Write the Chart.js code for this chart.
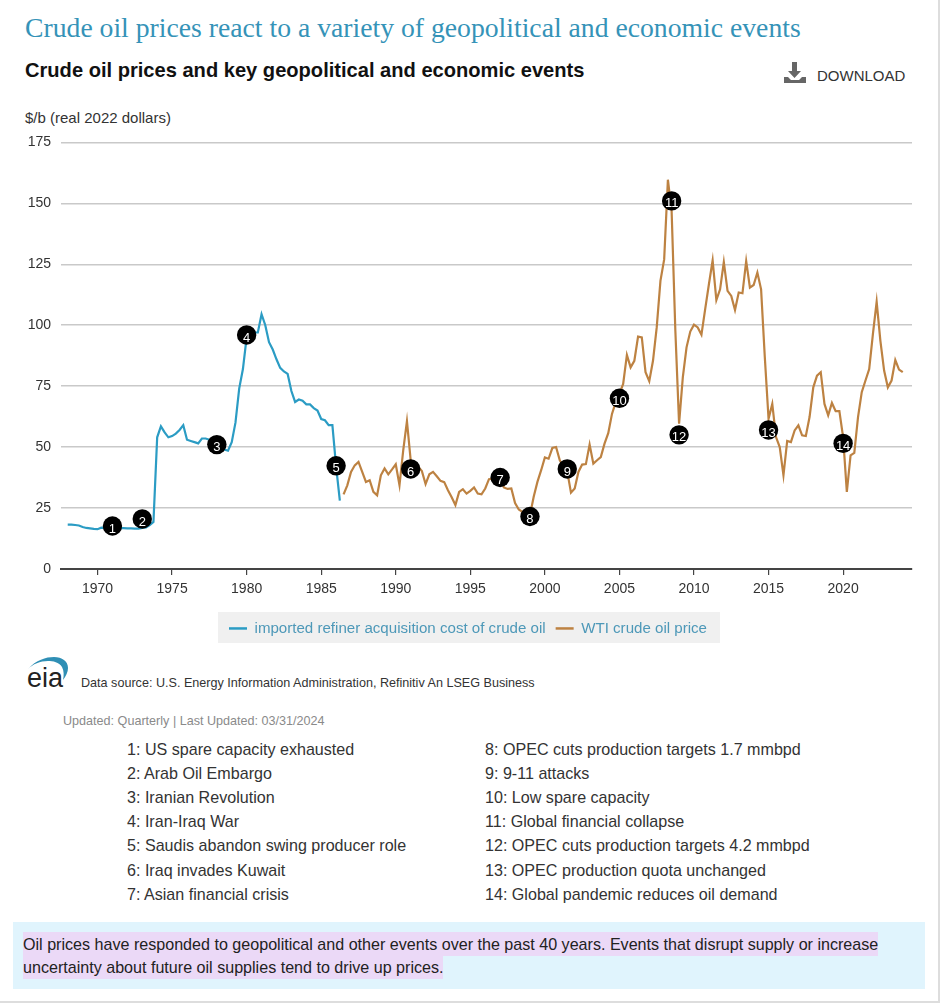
<!DOCTYPE html>
<html><head><meta charset="utf-8">
<script src="https://cdn.jsdelivr.net/npm/chart.js@4"></script>
<style>
html,body{margin:0;padding:0;background:#fff;width:940px;height:1003px;overflow:hidden;font-family:"Liberation Sans",Arial,sans-serif}
.a{position:absolute;white-space:nowrap;line-height:1}
#c{position:absolute;left:0;top:124px}
mark{background:#ebd9f7;color:#222;padding:3px 0}
</style></head><body>
<div class="a" style="left:25px;top:12px;font:27.7px 'Liberation Serif',serif;color:#3593b8">Crude oil prices react to a variety of geopolitical and economic events</div>
<div class="a" style="left:25px;top:60px;font-size:20.1px;font-weight:bold;color:#111">Crude oil prices and key geopolitical and economic events</div>
<svg class="a" style="left:783px;top:62px" width="24" height="22"><path d="M9 0h5v9h4l-6.5 7L5 9h4z M1 15h4l3 3h8l3-3h4v6H1z" fill="#666"/></svg>
<div class="a" style="left:817px;top:68px;font-size:15px;color:#333">DOWNLOAD</div>
<div class="a" style="left:25px;top:110px;font-size:15px;color:#333">$/b (real 2022 dollars)</div>
<canvas id="c" width="940" height="522"></canvas>
<svg class="a" style="left:26px;top:655px" width="46" height="28"><path d="M2 14C10 5 20 2 28 2C36 2 42 6 42 13C42 17 40 21 37 25C38 20 38 16 36 12C33 7 27 6 22 6C14 6 7 9 2 14z" fill="#2f8fb5"/></svg>
<div class="a" style="left:27px;top:665px;font-size:27px;color:#222">eia</div>
<div class="a" style="left:81px;top:677px;font-size:12.6px;color:#333">Data source: U.S. Energy Information Administration, Refinitiv An LSEG Business</div>
<div class="a" style="left:63px;top:715px;font-size:12.6px;color:#8a8a8a">Updated: Quarterly | Last Updated: 03/31/2024</div>
<div id="ev"></div>
<div class="a" style="left:13px;top:922px;width:912px;height:67px;background:#e0f4fd"></div>
<div class="a" style="left:23px;top:936px;font-size:16.1px;color:#222"><mark>Oil prices have responded to geopolitical and other events over the past 40 years. Events that disrupt supply or increase</mark></div>
<div class="a" style="left:23px;top:959px;font-size:16.1px;color:#222"><mark>uncertainty about future oil supplies tend to drive up prices.</mark></div>
<div class="a" style="left:938px;top:0;width:2px;height:1003px;background:#ddd"></div>
<div class="a" style="left:0;top:1001px;width:940px;height:2px;background:#ddd"></div>
<script>
const tickYears=[1970,1975,1980,1985,1990,1995,2000,2005,2010,2015,2020];
const yTicks=[0,25,50,75,100,125,150,175];
const refinerStart=1968;
const refinerValues=[
18.2,18.2,18,17.8, 17.2,16.8,16.6,16.4, 16.3,16.9,16.8,16.7, 16.6,16.6,16.7,16.7,
16.6,16.6,16.5,16.5, 16.8,17,18,19.3, 54,58.5,56,54, 54.5,55.5,57,59,
53,52.5,52,51.5, 53.5,53.5,53,52, 51,50,49,48.5, 52,60,74,82,
95,98,97,97, 104.5,100,93,90, 86,82.5,81,80, 73,68.5,69.5,69,
67.5,67.5,66,65, 61.5,61,59,59, 42,28];
const wtiStart=1986.5;
const wtiValues=[
30.6,34.3, 39.8,42.5,43.9,39.8, 35.7,36.4,31.6,30.2, 38.4,41.2,38.8,40.8,
42.9,34.3,48.6,60.6, 44.6,42,42,40.2, 34.8,38.8,39.8,38, 36.1,35.6,32.3,29.4,
26.2,31.6,32.7,30.9, 32,33.4,30.9,30.6, 33,36.8,37,37.5, 37,33.4,32.8,33,
27,24.4,23.4,23, 22,29.6,35.7,40.5, 45.7,45.2,49.6,50, 44.6,42,40,31.3,
33,39.8,42.8,43, 51,43.2,44.6,45.9, 51.4,55.7,63.6,68.4,
71.8,75.9,87.8,82.7, 85.4,95.3,95,80.7, 77,85.4,99.1,118.2, 127,159.7,146.8,97.7,
59.6,78.6,90.9,97.4, 100.2,99.1,96.1,106.6, 116.8,126.6,110.3,114.7, 125.9,114.1,112,106.2,
113.4,113.1,126.3,115.4, 116.5,121.6,114.7,86.8, 61.6,67.7,54.1,50, 38.4,52.5,52,56.8,
58.9,54.8,54.5,62.3, 74.5,79.3,80.7,67.7, 63,68.1,64.7,64.7, 54.1,31.6,46.6,47.6,
62.3,72.5,77.3,82, 96.4,109.6,93.6,81.4, 74.5,77.3,85.7,81.8, 80.7];
const eventYears=[1971,1973,1978,1980,1986,1991,1997,1999,2001.5,2005,2008.5,2009,2015,2020];
const eventValues=[17.6,20.5,51,96,42.3,41,37.5,21.5,41,70,151,55,57,51.5];
const eventsLeft=["1: US spare capacity exhausted","2: Arab Oil Embargo","3: Iranian Revolution","4: Iran-Iraq War","5: Saudis abandon swing producer role","6: Iraq invades Kuwait","7: Asian financial crisis"];
const eventsRight=["8: OPEC cuts production targets 1.7 mmbpd","9: 9-11 attacks","10: Low spare capacity","11: Global financial collapse","12: OPEC cuts production targets 4.2 mmbpd","13: OPEC production quota unchanged","14: Global pandemic reduces oil demand"];

const ev=document.getElementById('ev');
function addEvents(list,left){list.forEach((t,i)=>{const d=document.createElement('div');d.className='a';
 d.style.cssText=`left:${left}px;top:${741+i*24.1}px;font-size:16.1px;color:#333`;d.textContent=t;ev.appendChild(d);});}
addEvents(eventsLeft,127);addEvents(eventsRight,485);

const legendBack={id:'legendBack',
 afterLayout(ch){ch.legend.left+=12;ch.legend.right+=12;},
 beforeDraw(ch){const x=ch.ctx;x.save();x.fillStyle='#f0f0f0';x.fillRect(218,488,502,31);x.restore();}};
const eventNumbers={id:'eventNumbers',afterDatasetsDraw(ch){const m=ch.getDatasetMeta(2),x=ch.ctx;x.save();
 x.fillStyle='#fff';x.font='13px "Liberation Sans"';x.textAlign='center';x.textBaseline='middle';
 m.data.forEach((p,i)=>x.fillText(String(i+1),p.x,p.y+3));x.restore();}};

new Chart(document.getElementById('c'),{
 type:'line',
 data:{datasets:[
  {label:'imported refiner acquisition cost of crude oil',order:2,data:refinerValues.map((v,i)=>({x:refinerStart+i/4,y:v})),borderColor:'#2b9cc4',backgroundColor:'#2b9cc4',borderWidth:2.2,pointRadius:0,tension:0},
  {label:'WTI crude oil price',order:1,data:wtiValues.map((v,i)=>({x:wtiStart+i/4,y:v})),borderColor:'#bd8242',backgroundColor:'#bd8242',borderWidth:2.2,pointRadius:0,tension:0},
  {label:'events',order:0,data:eventValues.map((v,i)=>({x:eventYears[i],y:v})),showLine:false,pointRadius:9.7,pointHoverRadius:9.7,pointBackgroundColor:'#000',pointBorderColor:'#000',pointBorderWidth:0}
 ]},
 options:{responsive:false,animation:false,
  layout:{padding:{top:16,right:28,left:0,bottom:0}},
  plugins:{tooltip:{enabled:false},
   legend:{position:'bottom',align:'center',reverse:false,
    labels:{filter:i=>i.text!=='events',sort:(a,b)=>a.datasetIndex-b.datasetIndex,
     generateLabels(ch){return Chart.defaults.plugins.legend.labels.generateLabels(ch).map(i=>({...i,lineWidth:0}));},
     boxWidth:18,boxHeight:2.5,color:'#4d98b8',font:{size:15.1,family:'"Liberation Sans"'},padding:10}}},
  scales:{
   x:{type:'linear',min:1967.55,max:2024.62,
    afterBuildTicks(s){s.ticks=tickYears.map(v=>({value:v}));},
    afterFit(s){s.height=42;},
    ticks:{autoSkip:false,maxRotation:0,color:'#333',font:{size:14,family:'"Liberation Sans"'},padding:6,callback:v=>String(v)},
    grid:{drawOnChartArea:false,drawTicks:true,tickLength:6,tickColor:'#444',lineWidth:1.2},
    border:{color:'#444',width:2}},
   y:{min:0,max:175,
    afterBuildTicks(s){s.ticks=yTicks.map(v=>({value:v}));},
    afterFit(s){s.width=61;},
    ticks:{color:'#333',font:{size:14,family:'"Liberation Sans"'},padding:10},
    grid:{color:'#c9c9c9',lineWidth:1.5,drawTicks:false},
    border:{display:false}}
  }},
 plugins:[legendBack,eventNumbers]
});
</script>
</body></html>
